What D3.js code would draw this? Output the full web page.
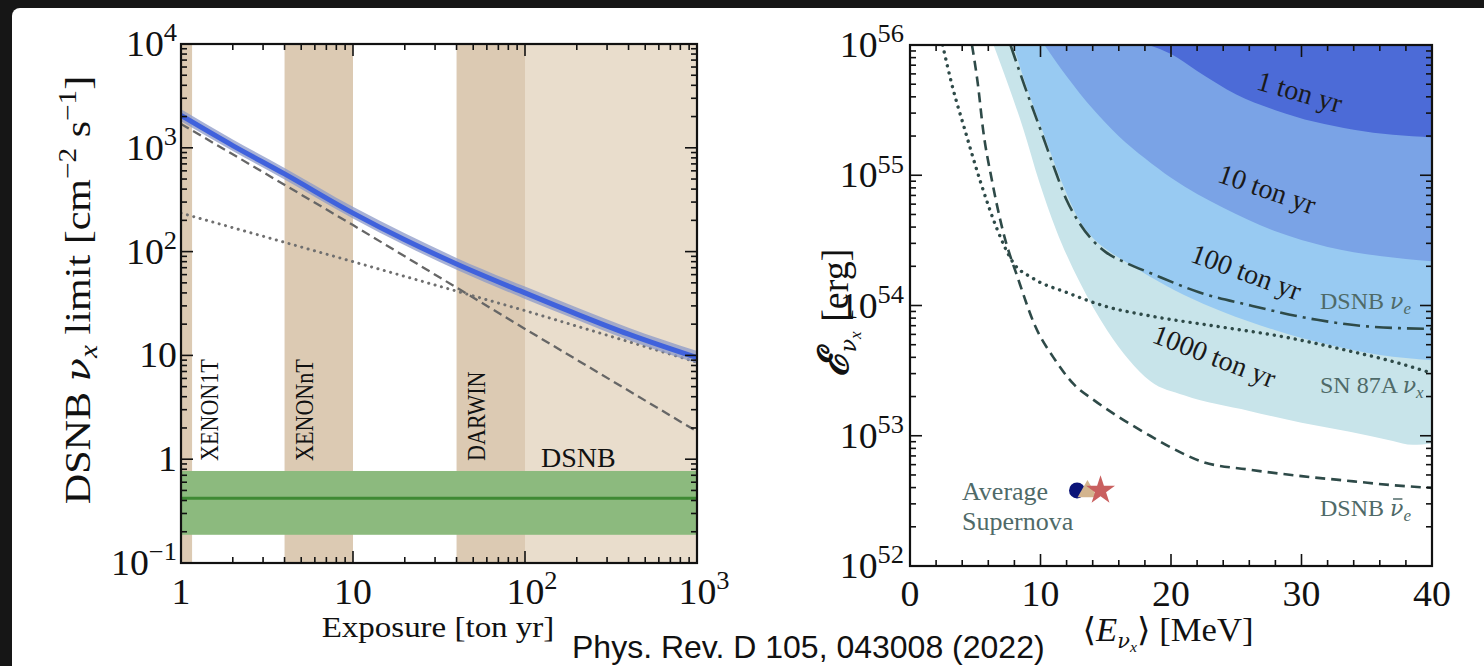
<!DOCTYPE html>
<html><head><meta charset="utf-8">
<script src="https://cdn.jsdelivr.net/npm/d3@7"></script>
<style>
html,body{margin:0;padding:0;background:#161616;}
svg{display:block;}
</style></head>
<body><svg id="c" width="1484" height="666"></svg>
<script>
// ---------- left panel: DSNB nu_x flux limit vs exposure ----------
const exposureGrid = [1, 2, 4, 10, 20, 40, 100, 200, 400, 1000];
const limitCentral = [2050, 1050, 560, 235, 130, 76, 40, 25, 16, 9.5];
const limitUpper   = [2350, 1200, 640, 270, 150, 87, 46, 29, 18.5, 11];
const limitLower   = [1800, 930, 495, 208, 115, 67, 35, 22, 14, 8.4];

const refExposure  = [1, 10, 100, 1000];
const dashedLimit  = [1700, 180, 18, 1.85];
const dottedLimit  = [235, 80, 27, 8.6];

const experimentNames = ["XENON1T", "XENONnT", "DARWIN", "DSNB"];
const experimentFrom  = [0.5, 4, 40, 100];
const experimentTo    = [1.16, 10, 100, 1000];

const dsnbFlux = [0.187, 0.42, 0.77]; // low, central, high

const leftXTicks = [1, 10, 100, 1000];
const leftXLabels = [["1",""], ["10",""], ["10","2"], ["10","3"]];
const leftYTicks = [1e4, 1e3, 1e2, 10, 1, 0.1];
const leftYLabels = [["10","4"], ["10","3"], ["10","2"], ["10",""], ["1",""], ["10","\u22121"]];

// ---------- right panel: sensitivity in (mean energy, total energy) ----------
const eTon1    = [18.3, 20, 22, 25, 28, 31, 34, 37, 40];
const logTon1  = [56.0, 55.93, 55.80, 55.62, 55.50, 55.41, 55.35, 55.31, 55.29];
const eTon10   = [10.3, 12, 14, 16, 18, 20, 24, 28, 32, 36, 40];
const logTon10 = [56.0, 55.76, 55.51, 55.30, 55.13, 54.98, 54.75, 54.57, 54.45, 54.38, 54.34];
const eTon100   = [7.9, 9, 10.2, 11.7, 13, 14, 15.2, 16.6, 18.4, 21, 24, 28, 32, 36, 40];
const logTon100 = [56.0, 55.66, 55.33, 54.93, 54.65, 54.52, 54.42, 54.33, 54.22, 54.08, 53.95, 53.81, 53.70, 53.62, 53.58];
const eTon1000   = [6.4, 7.5, 8.7, 9.9, 11.2, 13, 15.1, 16.8, 18.4, 21, 26, 30, 33.7, 37, 38.5, 40];
const logTon1000 = [56.0, 55.7, 55.35, 54.95, 54.58, 54.18, 53.81, 53.58, 53.42, 53.31, 53.19, 53.10, 53.03, 52.96, 52.93, 52.94];

const eDsnbNuE   = [7.7, 8.8, 10, 11, 12, 13, 14, 15, 16.5, 18.4, 22.2, 26.1, 31.2, 35, 40];
const logDsnbNuE = [56.0, 55.68, 55.35, 55.07, 54.81, 54.63, 54.5, 54.41, 54.33, 54.25, 54.10, 54.0, 53.89, 53.84, 53.82];
const eSn87a   = [2.5, 3.2, 4.2, 5.4, 6.7, 7.9, 9.4, 12, 15.1, 18.4, 23.5, 28.6, 33.7, 37, 40];
const logSn87a = [56.0, 55.7, 55.35, 54.95, 54.58, 54.33, 54.21, 54.10, 53.99, 53.92, 53.84, 53.76, 53.65, 53.57, 53.48];
const eDsnbNuEbar   = [4.75, 5.2, 5.6, 6.3, 7.1, 8.3, 9.6, 11, 12.6, 14, 15.9, 18.4, 20, 22.4, 26, 30, 34, 37, 40];
const logDsnbNuEbar = [56.0, 55.7, 55.35, 54.95, 54.58, 54.2, 53.84, 53.6, 53.39, 53.28, 53.15, 53.0, 52.91, 52.80, 52.74, 52.69, 52.65, 52.62, 52.60];

const avgSnE   = [12.8, 13.6, 14.6];   // circle, triangle, star
const avgSnLog = 52.58;

const rightXTicks = [0, 10, 20, 30, 40];
const rightYTicks = [52, 53, 54, 55, 56];

// ---------- setup ----------
const svg = d3.select("#c");
const SERIF = "'Liberation Serif','DejaVu Serif',serif";
const GREEK = "'DejaVu Serif','Liberation Serif',serif";
const INK = "#111";

svg.append("rect").attr("x", 12).attr("y", 8).attr("width", 1490).attr("height", 680)
  .attr("rx", 8).attr("fill", "#fff");

// text helper: position, rotation and a stretch along the text direction
function txt(g, x, y, o) {
  const t = g.append("text")
    .attr("transform", `translate(${x},${y}) rotate(${o.rot || 0}) scale(${o.sx || 1},1)`)
    .attr("font-family", o.family || SERIF).attr("font-size", o.size)
    .attr("fill", o.fill || INK).attr("text-anchor", o.anchor || "start");
  if (o.text !== undefined) t.text(o.text);
  return t;
}
function withSup(t, base, sup, size) {
  t.append("tspan").text(base);
  if (sup) t.append("tspan").attr("dy", -size * 0.42).attr("font-size", size * 0.7).text(sup);
}
function nu(t, size) {
  return t.append("tspan").attr("font-family", GREEK).attr("font-style", "italic")
    .attr("font-size", size).text("\u03bd");
}

const TICK_FS = 35, TICK_SX = 1.08;

// ===== Left panel =====
const L = {x0: 181, x1: 697, y0: 44, y1: 563};
const xL = d3.scaleLog().domain([1, 1000]).range([L.x0, L.x1]);
const yL = d3.scaleLog().domain([0.1, 1e4]).range([L.y1, L.y0]);

const gL = svg.append("g");
gL.append("clipPath").attr("id", "clipL").append("rect")
  .attr("x", L.x0).attr("y", L.y0).attr("width", L.x1 - L.x0).attr("height", L.y1 - L.y0);
const pL = gL.append("g").attr("clip-path", "url(#clipL)");

// experiment exposure bands
experimentNames.forEach((n, i) => {
  const a = Math.max(experimentFrom[i], 0.5);
  pL.append("rect")
    .attr("x", xL(a)).attr("y", L.y0)
    .attr("width", xL(experimentTo[i]) - xL(a)).attr("height", L.y1 - L.y0)
    .attr("fill", n === "DSNB" ? "#e9ddcc" : "#dccab3");
});

// DSNB prediction band
pL.append("rect").attr("x", L.x0).attr("width", L.x1 - L.x0)
  .attr("y", yL(dsnbFlux[2])).attr("height", yL(dsnbFlux[0]) - yL(dsnbFlux[2]))
  .attr("fill", "#8cba7e");
pL.append("line").attr("x1", L.x0).attr("x2", L.x1)
  .attr("y1", yL(dsnbFlux[1])).attr("y2", yL(dsnbFlux[1]))
  .attr("stroke", "#3f8a34").attr("stroke-width", 3);

// reference scalings
const refLine = d3.line().x((d, i) => xL(refExposure[i])).y(d => yL(d));
pL.append("path").attr("d", refLine(dashedLimit)).attr("fill", "none")
  .attr("stroke", "#666").attr("stroke-width", 2.3).attr("stroke-dasharray", "9,5");
pL.append("path").attr("d", refLine(dottedLimit)).attr("fill", "none")
  .attr("stroke", "#6f6f6f").attr("stroke-width", 3).attr("stroke-dasharray", "0.1,6.5")
  .attr("stroke-linecap", "round");

// limit band + central curve
const limArea = d3.area().curve(d3.curveMonotoneX)
  .x((d, i) => xL(exposureGrid[i])).y0((d, i) => yL(limitLower[i])).y1((d, i) => yL(limitUpper[i]));
pL.append("path").attr("d", limArea(limitCentral)).attr("fill", "#8b98c8").attr("opacity", 0.75);
const limLine = d3.line().curve(d3.curveMonotoneX)
  .x((d, i) => xL(exposureGrid[i])).y(d => yL(d));
pL.append("path").attr("d", limLine(limitCentral)).attr("fill", "none")
  .attr("stroke", "#4062dc").attr("stroke-width", 5);

// experiment labels
const expLabelX = [218, 313, 485];
experimentNames.slice(0, 3).forEach((n, i) => {
  txt(gL, expLabelX[i], 461, {rot: -90, size: 26, sx: 0.85, text: n});
});
txt(gL, 541, 467, {size: 28, text: "DSNB"});

// ticks
function logMinor(domain) {
  const out = [];
  for (let e = Math.floor(Math.log10(domain[0])); e < Math.ceil(Math.log10(domain[1])); e++)
    for (let m = 1; m < 10; m++) out.push(m * Math.pow(10, e));
  out.push(domain[1]);
  return out.filter(v => v >= domain[0] * 0.999 && v <= domain[1] * 1.001);
}
function isMajor(v) { return Math.abs(Math.log10(v) - Math.round(Math.log10(v))) < 1e-6; }

const tL = gL.append("g").attr("stroke", INK).attr("stroke-width", 1.6);
logMinor([1, 1000]).forEach(v => {
  const len = isMajor(v) ? 12 : 6, X = xL(v);
  tL.append("line").attr("x1", X).attr("x2", X).attr("y1", L.y1).attr("y2", L.y1 - len);
  tL.append("line").attr("x1", X).attr("x2", X).attr("y1", L.y0).attr("y2", L.y0 + len);
});
logMinor([0.1, 1e4]).forEach(v => {
  const len = isMajor(v) ? 12 : 6, Y = yL(v);
  tL.append("line").attr("x1", L.x0).attr("x2", L.x0 + len).attr("y1", Y).attr("y2", Y);
  tL.append("line").attr("x1", L.x1).attr("x2", L.x1 - len).attr("y1", Y).attr("y2", Y);
});
gL.append("rect").attr("x", L.x0).attr("y", L.y0).attr("width", L.x1 - L.x0)
  .attr("height", L.y1 - L.y0).attr("fill", "none").attr("stroke", INK).attr("stroke-width", 2.2);

leftXTicks.forEach((v, i) => {
  const lab = leftXLabels[i];
  // keep the mantissa centred on the tick when an exponent is present
  const shift = lab[1] ? 7 : 0;
  const t = txt(gL, xL(v) + shift, 604, {size: TICK_FS, sx: TICK_SX, anchor: "middle"});
  withSup(t, lab[0], lab[1], TICK_FS);
});
leftYTicks.forEach((v, i) => {
  const t = txt(gL, 177, yL(v) + 12, {size: TICK_FS, sx: TICK_SX, anchor: "end"});
  withSup(t, leftYLabels[i][0], leftYLabels[i][1], TICK_FS);
});

txt(gL, 438, 637, {size: 30, sx: 1.1, anchor: "middle", text: "Exposure [ton yr]"});

const yTitle = txt(gL, 90, 290, {rot: -90, size: 36, sx: 1.17, anchor: "middle"});
yTitle.append("tspan").text("DSNB ");
nu(yTitle, 33);
yTitle.append("tspan").attr("font-style", "italic").attr("font-size", 25).attr("dy", 7).text("x");
yTitle.append("tspan").attr("dy", -7).text(" limit [cm");
yTitle.append("tspan").attr("font-size", 25).attr("dy", -14).text("\u22122");
yTitle.append("tspan").attr("dy", 14).text(" s");
yTitle.append("tspan").attr("font-size", 25).attr("dy", -14).text("\u22121");
yTitle.append("tspan").attr("dy", 14).text("]");

// ===== Right panel =====
const R = {x0: 910, x1: 1432, y0: 45, y1: 566};
const xR = d3.scaleLinear().domain([0, 40]).range([R.x0, R.x1]);
const yR = d3.scaleLog().domain([1e52, 1e56]).range([R.y1, R.y0]);

const gR = svg.append("g");
gR.append("clipPath").attr("id", "clipR").append("rect")
  .attr("x", R.x0).attr("y", R.y0).attr("width", R.x1 - R.x0).attr("height", R.y1 - R.y0);
const pR = gR.append("g").attr("clip-path", "url(#clipR)");

function region(es, logs, fill) {
  const area = d3.area().curve(d3.curveMonotoneX)
    .x((d, i) => xR(es[i])).y0(yR(1e56) - 5).y1(d => yR(Math.pow(10, d)));
  pR.append("path").attr("d", area(logs)).attr("fill", fill);
  pR.append("rect").attr("x", xR(es[es.length - 1]) - 0.5).attr("y", R.y0)
    .attr("width", 4).attr("height", yR(Math.pow(10, logs[logs.length - 1])) - R.y0).attr("fill", fill);
}
region(eTon1000, logTon1000, "#c8e4ea");
region(eTon100, logTon100, "#98caf2");
region(eTon10, logTon10, "#7aa3e6");
region(eTon1, logTon1, "#4c6bd7");

function curve(es, logs, dash, round) {
  const line = d3.line().curve(d3.curveMonotoneX)
    .x((d, i) => xR(es[i])).y(d => yR(Math.pow(10, d)));
  pR.append("path").attr("d", line(logs)).attr("fill", "none")
    .attr("stroke", "#2e4a48").attr("stroke-width", round ? 3.4 : 2.6)
    .attr("stroke-dasharray", dash).attr("stroke-linecap", round ? "round" : "butt");
}
curve(eDsnbNuE, logDsnbNuE, "17,6,3,6");
curve(eSn87a, logSn87a, "0.1,7", true);
curve(eDsnbNuEbar, logDsnbNuEbar, "10,6");

// exposure labels
const tonText = ["1 ton yr", "10 ton yr", "100 ton yr", "1000 ton yr"];
const tonX = [1297, 1264, 1243, 1211];
const tonY = [101, 198, 281, 365];
const tonRot = [16, 19, 20, 21];
tonText.forEach((s, i) => {
  txt(gR, tonX[i], tonY[i], {rot: tonRot[i], size: 28, anchor: "middle", fill: "#1a1a1a", text: s});
});

// curve labels
const SLATE = "#4f6a68";
function sideLabel(y, name, sub, bar) {
  const g = gR.append("g").attr("transform", `translate(1320,${y})`);
  const t = g.append("text").attr("font-family", SERIF).attr("font-size", 24).attr("fill", SLATE);
  t.append("tspan").text(name + " ");
  nu(t, 22);
  t.append("tspan").attr("font-style", "italic").attr("font-size", 17).attr("dy", 5).text(sub);
  if (bar) {
    // bar over the nu, placed from the rendered glyph extent
    const idx = name.length + 1;
    const ext = t.node().getExtentOfChar(idx);
    g.append("line").attr("x1", ext.x + 3).attr("x2", ext.x + ext.width - 1)
      .attr("y1", -17).attr("y2", -17).attr("stroke", SLATE).attr("stroke-width", 1.5);
  }
}
sideLabel(309, "DSNB", "e", false);
sideLabel(393, "SN 87A", "x", false);
sideLabel(516, "DSNB", "e", true);

// average supernova markers
const ySn = yR(Math.pow(10, avgSnLog));
gR.append("circle").attr("cx", xR(avgSnE[0])).attr("cy", ySn).attr("r", 8).attr("fill", "#0b1478");
gR.append("path").attr("d", d3.symbol(d3.symbolTriangle, 170)())
  .attr("transform", `translate(${xR(avgSnE[1])},${ySn + 1})`).attr("fill", "#d3b48e");
gR.append("path").attr("d", d3.symbol(d3.symbolStar, 260)())
  .attr("transform", `translate(${xR(avgSnE[2])},${ySn})`).attr("fill", "#c9605f");
txt(gR, 962, 500, {size: 26, fill: SLATE, text: "Average"});
txt(gR, 962, 530, {size: 26, fill: SLATE, text: "Supernova"});

// ticks
const tR = gR.append("g").attr("stroke", INK).attr("stroke-width", 1.6);
d3.range(0, 41, 2).forEach(v => {
  const len = v % 10 === 0 ? 12 : 6, X = xR(v);
  tR.append("line").attr("x1", X).attr("x2", X).attr("y1", R.y1).attr("y2", R.y1 - len);
  tR.append("line").attr("x1", X).attr("x2", X).attr("y1", R.y0).attr("y2", R.y0 + len);
});
logMinor([1e52, 1e56]).forEach(v => {
  const len = isMajor(v) ? 12 : 6, Y = yR(v);
  tR.append("line").attr("x1", R.x0).attr("x2", R.x0 + len).attr("y1", Y).attr("y2", Y);
  tR.append("line").attr("x1", R.x1).attr("x2", R.x1 - len).attr("y1", Y).attr("y2", Y);
});
gR.append("rect").attr("x", R.x0).attr("y", R.y0).attr("width", R.x1 - R.x0)
  .attr("height", R.y1 - R.y0).attr("fill", "none").attr("stroke", INK).attr("stroke-width", 2.2);

rightXTicks.forEach(v => {
  txt(gR, xR(v), 606, {size: TICK_FS, sx: TICK_SX, anchor: "middle", text: String(v)});
});
rightYTicks.forEach(v => {
  const t = txt(gR, 904, yR(Math.pow(10, v)) + 12, {size: TICK_FS, sx: TICK_SX, anchor: "end"});
  withSup(t, "10", String(v), TICK_FS);
});

const xTitle = txt(gR, 1168, 641, {size: 33, sx: 1.05, anchor: "middle"});
xTitle.append("tspan").text("\u27e8");
xTitle.append("tspan").attr("font-style", "italic").text("E");
nu(xTitle, 20).attr("dy", 7);
xTitle.append("tspan").attr("font-style", "italic").attr("font-size", 15).attr("dy", 4).text("x");
xTitle.append("tspan").attr("dy", -11).text("\u27e9 [MeV]");

const yTitleR = txt(gR, 848, 313, {rot: -90, size: 38, anchor: "middle"});
yTitleR.append("tspan").attr("font-weight", "bold").attr("font-style", "italic").attr("font-size", 42).text("\u2130");
nu(yTitleR, 22).attr("dy", 8);
yTitleR.append("tspan").attr("font-style", "italic").attr("font-size", 17).attr("dy", 5).text("x");
yTitleR.append("tspan").attr("dy", -13).text(" [erg]");

// citation
txt(svg, 572, 658, {family: "'Liberation Sans',Arial,sans-serif", size: 32, fill: "#111",
  text: "Phys. Rev. D 105, 043008 (2022)"});
</script>
</body></html>
